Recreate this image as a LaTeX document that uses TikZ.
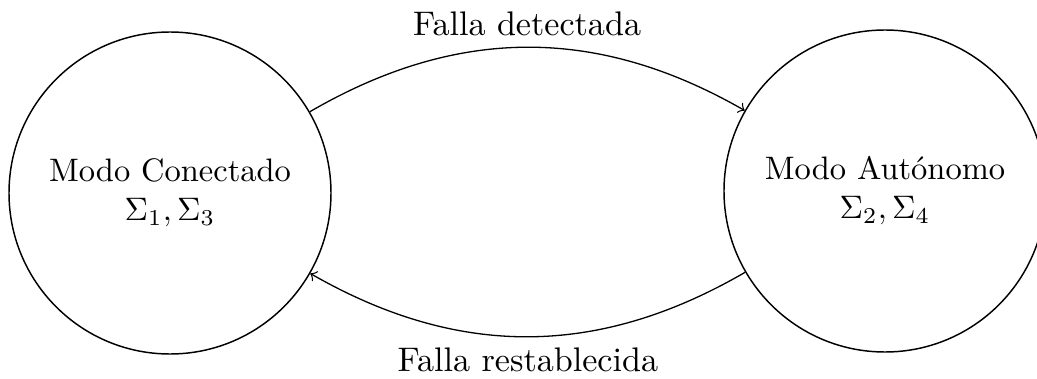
\documentclass[tikz,border=0pt]{standalone}
\usetikzlibrary{arrows}
\begin{document}
\begin{tikzpicture}[x=0.3077pt,y=-0.3077pt,
  state/.style={draw,circle,minimum size=322*0.3077pt,inner sep=0pt,align=center,line width=0.45pt},
  trans/.style={->,line width=0.4pt},
  lbl/.style={font=\fontsize{10.5}{12.6}\selectfont}]
\useasboundingbox (0,0) rectangle (1037,379);
\node[state] (L) at (170,193) {Modo Conectado\\$\Sigma_1,\Sigma_3$};
\node[state] (R) at (885,191) {Modo Aut\'onomo\\$\Sigma_2,\Sigma_4$};
\draw[trans] (L) to[bend left=30] node[midway,above,lbl] (t1) {Falla detectada} (R);
\draw[trans] (R) to[bend left=30] node[midway,below,lbl] (t2) {Falla restablecida} (L);
\end{tikzpicture}
\end{document}
